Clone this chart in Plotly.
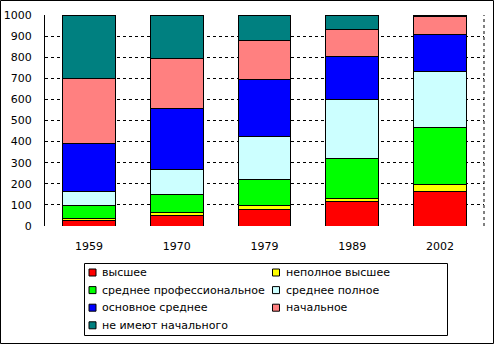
import plotly.graph_objects as go

years = ["1959", "1970", "1979", "1989", "2002"]

series_names = [
    "высшее",
    "неполное высшее",
    "среднее профессиональное",
    "среднее полное",
    "основное среднее",
    "начальное",
    "не имеют начального",
]

vysshee = [27, 52, 76, 115, 163]
nepolnoe_vysshee = [8, 14, 21, 16, 34]
srednee_prof = [60, 82, 125, 191, 271]
srednee_polnoe = [67, 122, 204, 276, 262]
osnovnoe_srednee = [231, 285, 270, 206, 179]
nachalnoe = [307, 240, 185, 129, 82]
ne_imeyut = [300, 202, 119, 67, 9]

series_values = [
    vysshee,
    nepolnoe_vysshee,
    srednee_prof,
    srednee_polnoe,
    osnovnoe_srednee,
    nachalnoe,
    ne_imeyut,
]

colors = ["#FF0000", "#FFFF00", "#00FF00", "#CCFFFF", "#0000FF", "#FF8080", "#008080"]

y_ticks = [0, 100, 200, 300, 400, 500, 600, 700, 800, 900, 1000]

FONT = "DejaVu Sans, Verdana, sans-serif"
FS = 11

fig = go.Figure()
for name, vals, col in zip(series_names, series_values, colors):
    fig.add_trace(
        go.Bar(
            x=years,
            y=vals,
            name=name,
            marker=dict(color=col, line=dict(color="black", width=1)),
            width=0.6,
            showlegend=False,
        )
    )

W, H = 495, 345
L, R, T, B = 45, 11, 15, 119
pw, ph = W - L - R, H - T - B


def px(x):
    """pixel column -> paper x"""
    return (x - L) / pw


def py(y):
    """pixel row -> paper y"""
    return (T + ph - y) / ph


shapes = [
    # dashed right edge of the plotting area
    dict(type="line", xref="paper", yref="paper", x0=1, x1=1, y0=0, y1=1,
         line=dict(color="black", width=1, dash="3px,3px")),
    # frame around the whole chart
    dict(type="rect", xref="paper", yref="paper",
         x0=px(0.5), x1=px(W - 1.5), y0=py(H - 1.5), y1=py(0.5),
         line=dict(color="black", width=1), layer="above"),
    # legend box
    dict(type="rect", xref="paper", yref="paper",
         x0=px(84.5), x1=px(447.5), y0=py(335.5), y1=py(263.5),
         line=dict(color="black", width=1), fillcolor="white", layer="above"),
]
annotations = []

# two-column legend, filled row by row
col_x = [92.5, 276.0]
row_y0, row_dy = 272.5, 17.6
half = 3.5
for i, (name, col) in enumerate(zip(series_names, colors)):
    cx = col_x[i % 2]
    cy = row_y0 + (i // 2) * row_dy
    shapes.append(dict(
        type="rect", xref="paper", yref="paper",
        x0=px(cx - half), x1=px(cx + half), y0=py(cy + half), y1=py(cy - half),
        line=dict(color="black", width=1), fillcolor=col, layer="above",
    ))
    annotations.append(dict(
        xref="paper", yref="paper", x=px(cx + 7.5), y=py(cy),
        xanchor="left", yanchor="middle", showarrow=False,
        text=name, font=dict(family=FONT, size=FS, color="black"),
    ))

fig.update_layout(
    width=W,
    height=H,
    margin=dict(l=L, r=R, t=T, b=B, autoexpand=False),
    barmode="stack",
    plot_bgcolor="white",
    paper_bgcolor="white",
    font=dict(family=FONT, size=FS, color="black"),
    showlegend=False,
    xaxis=dict(
        showgrid=False,
        showline=False,
        ticks="",
        ticklabelstandoff=12,
        tickfont=dict(family=FONT, size=FS),
    ),
    yaxis=dict(
        range=[0, 1000],
        tickvals=y_ticks,
        showgrid=True,
        gridcolor="black",
        gridwidth=1,
        griddash="3px,3px",
        zeroline=False,
        showline=True,
        linecolor="black",
        linewidth=1,
        ticks="",
        ticklabelstandoff=10,
        tickfont=dict(family=FONT, size=FS),
    ),
    shapes=shapes,
    annotations=annotations,
)

fig.write_html("out.html")
